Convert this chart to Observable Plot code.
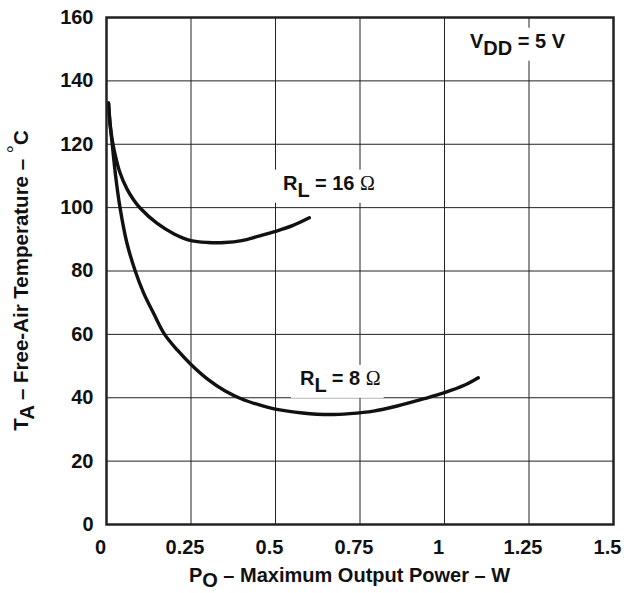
<!DOCTYPE html>
<html><head><meta charset="utf-8">
<script src="https://cdn.jsdelivr.net/npm/d3@7"></script>
<script src="https://cdn.jsdelivr.net/npm/@observablehq/plot@0.6"></script>
<style>body{margin:0;background:#fff}#chart svg{display:block}</style>
</head><body><div id="chart"></div>
<script>
// Axis ticks
const xTicks = [0, 0.25, 0.5, 0.75, 1, 1.25, 1.5];
const yTicks = [0, 20, 40, 60, 80, 100, 120, 140, 160];

// R_L = 8 Ω : maximum output power (W) vs free-air temperature (°C)
const rl8Power = [0.006, 0.011, 0.017, 0.027, 0.04, 0.06, 0.085, 0.11, 0.14, 0.172, 0.21, 0.25, 0.3, 0.35, 0.4, 0.45, 0.5, 0.58, 0.66, 0.72, 0.79, 0.86, 0.94, 1.0, 1.06, 1.1];
const rl8Temp  = [133, 126, 120, 110, 100, 89, 80, 73, 66.5, 60, 55, 50.5, 45.8, 42.2, 39.6, 37.8, 36.4, 35.2, 34.7, 35, 35.8, 37.4, 39.7, 41.6, 44, 46.3];

// R_L = 16 Ω
const rl16Power = [0.006, 0.01, 0.016, 0.025, 0.04, 0.06, 0.08, 0.1, 0.15, 0.2, 0.25, 0.3, 0.35, 0.4, 0.45, 0.5, 0.55, 0.6];
const rl16Temp  = [133, 127, 122, 117, 111, 106, 102.5, 99.8, 95, 91.7, 89.6, 89, 89, 89.6, 91, 92.5, 94.3, 96.8];

// Annotations (data units)
const noteMain = ["R", "R", "V"];
const noteSub  = ["L", "L", "DD"];
const noteRest = [" = 16 ", " = 8 ", " = 5 V"];
const noteUnit = ["Ω", "Ω", ""];
const noteX    = [0.524, 0.574, 1.077];
const noteY    = [105.5, 43.9, 150.3];

const series = [
  ...rl8Power.map((p, i) => ({p, t: rl8Temp[i], s: "8"})),
  ...rl16Power.map((p, i) => ({p, t: rl16Temp[i], s: "16"}))
];

const FONT = "'Liberation Sans', Arial, Helvetica, sans-serif";

function notes(index, scales) {
  const g = d3.create("svg:g").attr("font-family", FONT).attr("font-weight", "bold")
    .attr("font-size", 20).attr("fill", "#111").attr("text-anchor", "start");
  noteMain.forEach((m, i) => {
    const t = g.append("text").attr("class", "lbl").attr("x", scales.x(noteX[i])).attr("y", scales.y(noteY[i]));
    t.append("tspan").text(m);
    t.append("tspan").attr("dy", 7).text(noteSub[i]);
    t.append("tspan").attr("dy", -7).text(noteRest[i]);
    if (noteUnit[i]) t.append("tspan").attr("font-family", "'Liberation Serif', 'DejaVu Serif', serif").attr("font-weight", "normal").text(noteUnit[i]);
  });
  return g.node();
}

function titles(index, scales, values, dim) {
  const {width, height, marginLeft, marginRight, marginTop, marginBottom} = dim;
  const g = d3.create("svg:g").attr("font-family", FONT).attr("font-weight", "bold")
    .attr("font-size", 20).attr("fill", "#111");
  const cx = marginLeft + (width - marginLeft - marginRight) / 2 - 10;
  const tx = g.append("text").attr("x", cx).attr("y", height - 11).attr("text-anchor", "middle");
  tx.append("tspan").text("P");
  tx.append("tspan").attr("dy", 5).text("O");
  tx.append("tspan").attr("dy", -5).text(" – Maximum Output Power – W");
  const cy = marginTop + (height - marginTop - marginBottom) / 2 + 10;
  const ty = g.append("text").attr("transform", `translate(28,${cy}) rotate(-90)`).attr("text-anchor", "middle").attr("font-size", 20.5);
  ty.append("tspan").text("T");
  ty.append("tspan").attr("dy", 6).text("A");
  ty.append("tspan").attr("dy", -6).text(" – Free-Air Temperature – ");
  ty.append("tspan").attr("dy", -6).attr("font-weight", "normal").text("°");
  ty.append("tspan").attr("dy", 6).text("C");
  return g.node();
}

const chart = Plot.plot({
  width: 634,
  height: 593,
  marginLeft: 106,
  marginRight: 21,
  marginTop: 17,
  marginBottom: 69,
  style: {fontFamily: FONT, fontSize: "20px", fontWeight: "bold", color: "#111", background: "#fff"},
  x: {domain: [0, 1.5], ticks: xTicks, tickSize: 0, tickPadding: 15, label: null, tickFormat: d => String(d)},
  y: {domain: [0, 160], ticks: yTicks, tickSize: 0, tickPadding: 13, label: null},
  marks: [
    Plot.gridX(xTicks, {stroke: "#222", strokeOpacity: 1, strokeWidth: 1}),
    Plot.gridY(yTicks, {stroke: "#222", strokeOpacity: 1, strokeWidth: 1}),
    notes,
    Plot.line(series, {x: "p", y: "t", z: "s", stroke: "#111", strokeWidth: 3.4, curve: "catmull-rom"}),
    Plot.frame({stroke: "#222", strokeWidth: 2.5}),
    titles
  ]
});
document.getElementById("chart").appendChild(chart);

// white boxes behind annotation labels
d3.select(chart).selectAll("text.lbl").each(function() {
  const b = this.getBBox();
  d3.select(this.parentNode).insert("rect", () => this)
    .attr("x", b.x - 9).attr("y", b.y - 2).attr("width", b.width + 12).attr("height", b.height + 4)
    .attr("fill", "#fff");
});
// shift x tick labels slightly left as in reference
d3.select(chart).selectAll("[aria-label='x-axis tick label'] text, [aria-label='x-axis'] text").attr("dx", -6);
</script>
</body></html>
